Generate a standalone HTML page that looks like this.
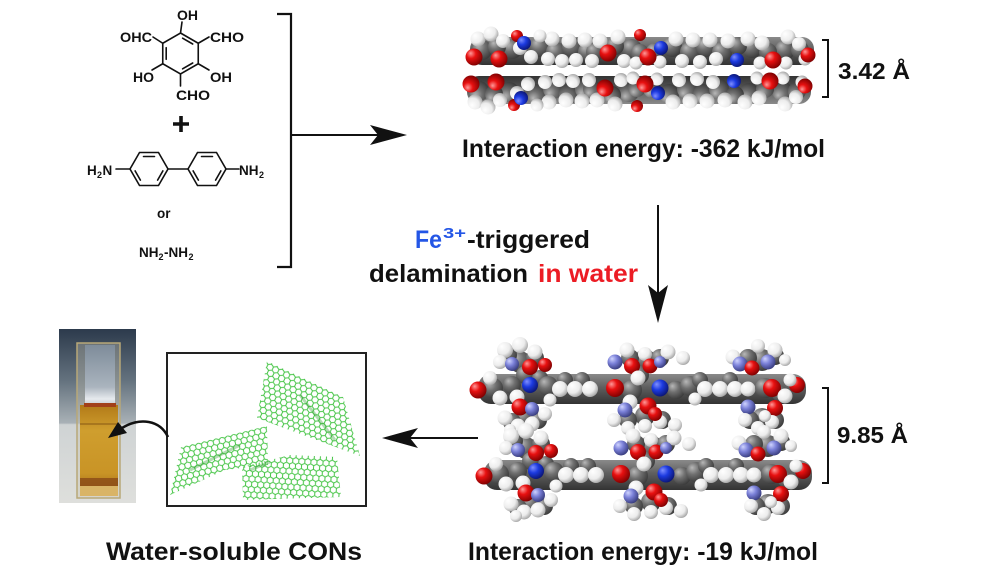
<!DOCTYPE html>
<html><head><meta charset="utf-8">
<style>
html,body{margin:0;padding:0;background:#fff;width:1000px;height:575px;overflow:hidden}
svg{display:block}
.c{fill:url(#gC)}.h{fill:url(#gH)}.o{fill:url(#gO)}.n{fill:url(#gN)}.l{fill:url(#gL)}
text{font-family:"Liberation Sans",Arial,sans-serif;font-weight:bold;fill:#111}
.b{stroke:#111;stroke-width:1.6;fill:none;stroke-linecap:round}
</style></head><body>
<svg width="1000" height="575" viewBox="0 0 1000 575" xmlns="http://www.w3.org/2000/svg">
<defs>
<radialGradient id="gC" cx="0.38" cy="0.35" r="0.7" fx="0.3" fy="0.28"><stop offset="0" stop-color="#b8b8b8"/><stop offset="0.45" stop-color="#707070"/><stop offset="1" stop-color="#383838"/></radialGradient>
<radialGradient id="gH" cx="0.38" cy="0.35" r="0.72" fx="0.3" fy="0.28"><stop offset="0" stop-color="#fff"/><stop offset="0.6" stop-color="#ececec"/><stop offset="1" stop-color="#9a9a9a"/></radialGradient>
<radialGradient id="gO" cx="0.38" cy="0.35" r="0.7" fx="0.3" fy="0.28"><stop offset="0" stop-color="#ff9a9a"/><stop offset="0.4" stop-color="#e81010"/><stop offset="1" stop-color="#780000"/></radialGradient>
<radialGradient id="gN" cx="0.38" cy="0.35" r="0.7" fx="0.3" fy="0.28"><stop offset="0" stop-color="#8090ff"/><stop offset="0.45" stop-color="#1c3ae0"/><stop offset="1" stop-color="#0a1470"/></radialGradient>
<radialGradient id="gL" cx="0.38" cy="0.35" r="0.7" fx="0.3" fy="0.28"><stop offset="0" stop-color="#d0d4ff"/><stop offset="0.45" stop-color="#7a80d8"/><stop offset="1" stop-color="#343878"/></radialGradient>
<linearGradient id="band" x1="0" y1="0" x2="0" y2="1"><stop offset="0" stop-color="#8a8a8a"/><stop offset="0.45" stop-color="#5e5e5e"/><stop offset="1" stop-color="#333"/></linearGradient>
<linearGradient id="bg" x1="0" y1="0" x2="0" y2="1">
<stop offset="0" stop-color="#2c3a4c"/><stop offset="0.3" stop-color="#65737f"/><stop offset="0.54" stop-color="#a9b1b6"/><stop offset="0.55" stop-color="#cfd3d4"/><stop offset="1" stop-color="#dedfdc"/></linearGradient>
<linearGradient id="liq" x1="0" y1="0" x2="0" y2="1">
<stop offset="0" stop-color="#b27a18"/><stop offset="0.3" stop-color="#cf9e2e"/><stop offset="0.8" stop-color="#c99426"/><stop offset="1" stop-color="#a8701a"/></linearGradient>
<linearGradient id="air" x1="0" y1="0" x2="0" y2="1">
<stop offset="0" stop-color="#7e8c9a"/><stop offset="0.7" stop-color="#aab4be"/><stop offset="0.9" stop-color="#e6eaee"/><stop offset="1" stop-color="#c8ccd0"/></linearGradient>
<pattern id="hexA" width="6.06" height="10.5" patternUnits="userSpaceOnUse" patternTransform="rotate(25)">
<path d="M3.03,0 L6.06,1.75 M3.03,0 L0,1.75 M0,1.75 V5.25 M6.06,1.75 V5.25 M0,5.25 L3.03,7 L6.06,5.25 M3.03,7 V10.5" stroke="#44c444" stroke-width="1" fill="none"/></pattern>
<pattern id="hexB" width="6.06" height="10.5" patternUnits="userSpaceOnUse" patternTransform="rotate(-14)">
<path d="M3.03,0 L6.06,1.75 M3.03,0 L0,1.75 M0,1.75 V5.25 M6.06,1.75 V5.25 M0,5.25 L3.03,7 L6.06,5.25 M3.03,7 V10.5" stroke="#44c444" stroke-width="1" fill="none"/></pattern>
<pattern id="hexC" width="6.06" height="10.5" patternUnits="userSpaceOnUse" patternTransform="rotate(4)">
<path d="M3.03,0 L6.06,1.75 M3.03,0 L0,1.75 M0,1.75 V5.25 M6.06,1.75 V5.25 M0,5.25 L3.03,7 L6.06,5.25 M3.03,7 V10.5" stroke="#44c444" stroke-width="1" fill="none"/></pattern>

<g id="tl">
<rect x="470" y="37" width="344" height="28" rx="12" fill="url(#band)"/>
<circle class="c" cx="482" cy="50" r="10"/><circle class="c" cx="512" cy="49" r="10"/><circle class="c" cx="540" cy="47" r="10"/>
<circle class="c" cx="556" cy="52" r="10"/><circle class="c" cx="572" cy="47" r="10"/><circle class="c" cx="588" cy="52" r="10"/>
<circle class="c" cx="632" cy="49" r="10"/><circle class="c" cx="672" cy="47" r="10"/><circle class="c" cx="690" cy="52" r="10"/>
<circle class="c" cx="706" cy="47" r="10"/><circle class="c" cx="722" cy="52" r="10"/><circle class="c" cx="752" cy="48" r="10"/>
<circle class="c" cx="785" cy="50" r="10"/><circle class="c" cx="640" cy="53" r="9"/><circle class="c" cx="595" cy="52" r="9"/>
<circle class="c" cx="615" cy="46" r="9"/><circle class="c" cx="655" cy="52" r="9"/><circle class="c" cx="738" cy="46" r="9"/><circle class="c" cx="768" cy="52" r="9"/><circle class="c" cx="800" cy="50" r="9"/><circle class="c" cx="497" cy="47" r="9"/>
<circle class="h" cx="478" cy="39" r="7.5"/><circle class="h" cx="491" cy="34" r="7.5"/><circle class="h" cx="503" cy="41" r="7"/>
<circle class="h" cx="520" cy="48" r="7"/><circle class="h" cx="531" cy="57" r="7"/><circle class="h" cx="552" cy="39" r="7.5"/>
<circle class="h" cx="569" cy="41" r="7.5"/><circle class="h" cx="585" cy="40" r="7.5"/><circle class="h" cx="548" cy="59" r="7"/>
<circle class="h" cx="562" cy="61" r="7"/><circle class="h" cx="576" cy="60" r="7"/><circle class="h" cx="592" cy="61" r="7"/>
<circle class="h" cx="600" cy="41" r="7.5"/><circle class="h" cx="618" cy="37" r="7.5"/><circle class="h" cx="624" cy="61" r="7"/>
<circle class="h" cx="636" cy="63" r="6.5"/><circle class="h" cx="676" cy="39" r="7.5"/><circle class="h" cx="693" cy="40" r="7.5"/>
<circle class="h" cx="710" cy="40" r="7.5"/><circle class="h" cx="728" cy="41" r="7.5"/><circle class="h" cx="682" cy="61" r="7"/>
<circle class="h" cx="700" cy="62" r="7"/><circle class="h" cx="716" cy="59" r="7"/><circle class="h" cx="748" cy="39" r="7.5"/>
<circle class="h" cx="762" cy="43" r="7.5"/><circle class="h" cx="788" cy="37" r="7.5"/><circle class="h" cx="799" cy="44" r="7"/>
<circle class="h" cx="805" cy="59" r="6.5"/><circle class="h" cx="786" cy="63" r="6.5"/><circle class="h" cx="760" cy="63" r="6.5"/>
<circle class="h" cx="540" cy="36" r="6.5"/><circle class="h" cx="660" cy="62" r="6.5"/>
<circle class="o" cx="517" cy="36" r="6"/><circle class="o" cx="640" cy="35" r="6"/>
<circle class="o" cx="474" cy="57" r="8.5"/><circle class="o" cx="499" cy="59" r="8.5"/><circle class="o" cx="608" cy="53" r="8.5"/>
<circle class="o" cx="648" cy="57" r="8.5"/><circle class="o" cx="773" cy="60" r="8.5"/><circle class="o" cx="808" cy="55" r="7.5"/>
<circle class="n" cx="524" cy="43" r="7"/><circle class="n" cx="661" cy="48" r="7"/><circle class="n" cx="737" cy="60" r="7"/>
</g>

<g id="bl">
<rect x="478" y="374" width="328" height="30" rx="13" fill="url(#band)"/>
<circle class="c" cx="520" cy="362" r="11"/><circle class="c" cx="645" cy="360" r="11"/><circle class="c" cx="762" cy="360" r="11"/>
<circle class="c" cx="525" cy="418" r="10"/><circle class="c" cx="645" cy="416" r="10"/><circle class="c" cx="762" cy="418" r="10"/>
<circle class="c" cx="508" cy="355" r="9"/><circle class="c" cx="535" cy="358" r="9"/><circle class="c" cx="630" cy="358" r="9"/>
<circle class="c" cx="660" cy="358" r="9"/><circle class="c" cx="748" cy="358" r="9"/><circle class="c" cx="775" cy="356" r="9"/>
<circle class="c" cx="512" cy="422" r="9"/><circle class="c" cx="538" cy="420" r="9"/><circle class="c" cx="628" cy="420" r="9"/>
<circle class="c" cx="662" cy="420" r="9"/><circle class="c" cx="750" cy="420" r="9"/><circle class="c" cx="775" cy="420" r="9"/>
<circle class="c" cx="525" cy="375" r="9"/><circle class="c" cx="540" cy="378" r="8"/><circle class="c" cx="640" cy="375" r="9"/>
<circle class="h" cx="505" cy="350" r="8"/><circle class="h" cx="520" cy="345" r="8"/><circle class="h" cx="535" cy="352" r="7.5"/>
<circle class="h" cx="500" cy="362" r="7"/><circle class="l" cx="512" cy="364" r="7"/><circle class="o" cx="530" cy="367" r="8"/>
<circle class="o" cx="545" cy="365" r="7"/>
<circle class="c" cx="493" cy="388" r="10"/><circle class="c" cx="512" cy="385" r="9"/>
<circle class="o" cx="478" cy="390" r="8.5"/><circle class="h" cx="500" cy="398" r="7.5"/><circle class="h" cx="490" cy="378" r="7"/>
<circle class="n" cx="530" cy="385" r="8"/><circle class="h" cx="517" cy="397" r="7.5"/><circle class="o" cx="520" cy="407" r="8.5"/>
<circle class="h" cx="505" cy="418" r="7.5"/><circle class="h" cx="518" cy="426" r="7.5"/><circle class="h" cx="532" cy="424" r="7.5"/>
<circle class="h" cx="545" cy="414" r="7"/><circle class="l" cx="532" cy="409" r="7"/><circle class="h" cx="510" cy="430" r="6"/>
<circle class="c" cx="548" cy="386" r="10"/><circle class="c" cx="565" cy="380" r="8"/><circle class="c" cx="582" cy="380" r="8"/>
<circle class="h" cx="560" cy="389" r="8"/><circle class="h" cx="575" cy="389" r="8"/><circle class="h" cx="590" cy="389" r="8"/>
<circle class="h" cx="550" cy="400" r="6.5"/>
<circle class="h" cx="627" cy="350" r="7.5"/><circle class="h" cx="645" cy="354" r="7"/><circle class="l" cx="615" cy="362" r="7.5"/>
<circle class="o" cx="632" cy="366" r="8"/><circle class="o" cx="650" cy="366" r="7.5"/><circle class="h" cx="668" cy="352" r="7.5"/>
<circle class="h" cx="683" cy="358" r="7"/><circle class="l" cx="660" cy="362" r="6"/>
<circle class="c" cx="632" cy="390" r="10"/><circle class="c" cx="676" cy="390" r="9"/>
<circle class="o" cx="615" cy="388" r="9"/><circle class="h" cx="638" cy="378" r="7.5"/><circle class="h" cx="630" cy="402" r="7.5"/>
<circle class="o" cx="648" cy="406" r="8.5"/><circle class="n" cx="660" cy="388" r="8.5"/>
<circle class="l" cx="625" cy="410" r="7.5"/><circle class="h" cx="614" cy="420" r="7"/><circle class="h" cx="628" cy="428" r="7"/>
<circle class="h" cx="645" cy="426" r="7"/><circle class="h" cx="660" cy="422" r="7"/><circle class="h" cx="675" cy="425" r="7"/>
<circle class="o" cx="655" cy="414" r="7"/>
<circle class="c" cx="690" cy="386" r="10"/><circle class="c" cx="700" cy="380" r="8"/><circle class="c" cx="730" cy="380" r="8"/>
<circle class="h" cx="705" cy="389" r="8"/><circle class="h" cx="720" cy="389" r="8"/><circle class="h" cx="735" cy="389" r="8"/>
<circle class="h" cx="748" cy="389" r="7.5"/><circle class="h" cx="695" cy="399" r="6.5"/>
<circle class="h" cx="733" cy="357" r="7.5"/><circle class="l" cx="740" cy="364" r="7.5"/><circle class="h" cx="758" cy="346" r="7"/>
<circle class="h" cx="775" cy="350" r="7.5"/><circle class="l" cx="768" cy="362" r="7.5"/><circle class="o" cx="752" cy="368" r="7.5"/>
<circle class="h" cx="785" cy="360" r="6"/>
<circle class="c" cx="765" cy="388" r="10"/><circle class="c" cx="780" cy="394" r="8"/>
<circle class="o" cx="772" cy="388" r="9"/><circle class="o" cx="797" cy="385" r="8"/><circle class="h" cx="785" cy="396" r="7.5"/>
<circle class="h" cx="790" cy="380" r="6.5"/>
<circle class="l" cx="748" cy="407" r="7.5"/><circle class="o" cx="775" cy="408" r="8"/><circle class="h" cx="745" cy="420" r="7"/>
<circle class="h" cx="758" cy="428" r="7"/><circle class="h" cx="772" cy="422" r="7"/><circle class="h" cx="765" cy="416" r="6"/>
</g>
</defs>

<!-- Chemistry: triformylphloroglucinol -->
<polygon class="b" points="180.5,33 198.25,43.25 198.25,63.75 180.5,74 162.75,63.75 162.75,43.25"/>
<path class="b" d="M182.6,38.2 L192.7,44 M192.7,63 L182.6,68.8 M166.2,59.3 L166.2,47.7"/>
<path class="b" d="M180.5,33 L182,22 M198.25,43.25 L209,37 M162.75,43.25 L153,37 M198.25,63.75 L209,70 M162.75,63.75 L152,70 M180.5,74 L180.5,86"/>
<text x="177" y="20" font-size="13.5" textLength="21" lengthAdjust="spacingAndGlyphs">OH</text>
<text x="120" y="42" font-size="13.5" textLength="32" lengthAdjust="spacingAndGlyphs">OHC</text>
<text x="210" y="42" font-size="13.5" textLength="34" lengthAdjust="spacingAndGlyphs">CHO</text>
<text x="133" y="82" font-size="13.5" textLength="21" lengthAdjust="spacingAndGlyphs">HO</text>
<text x="210" y="82" font-size="13.5" textLength="22" lengthAdjust="spacingAndGlyphs">OH</text>
<text x="176" y="100" font-size="13.5" textLength="34" lengthAdjust="spacingAndGlyphs">CHO</text>
<path d="M181,116 V132 M173,124 H189" stroke="#111" stroke-width="3.6"/>

<!-- benzidine -->
<polygon class="b" points="130,169 139.5,152.5 158.5,152.5 168,169 158.5,185.5 139.5,185.5"/>
<polygon class="b" points="188,169 197.5,152.5 216.5,152.5 226,169 216.5,185.5 197.5,185.5"/>
<path class="b" d="M143.5,156.5 H154.5 M162.9,170.9 L157.6,180.1 M140.4,180.1 L135.1,170.9 M201.5,156.5 H212.5 M220.9,170.9 L215.6,180.1 M198.4,180.1 L193.1,170.9"/>
<path class="b" d="M116,169 H130 M168,169 H188 M226,169 H239"/>
<text x="87" y="175" font-size="13.5">H</text><text x="97" y="178" font-size="9">2</text><text x="102.5" y="175" font-size="13.5">N</text>
<text x="239" y="175" font-size="13.5">NH</text><text x="259" y="178" font-size="9">2</text>
<text x="157" y="218" font-size="13.5">or</text>
<text x="139" y="257" font-size="13.5">NH</text><text x="158.5" y="260" font-size="9">2</text><text x="164" y="257" font-size="13.5">-NH</text><text x="188.5" y="260" font-size="9">2</text>

<!-- bracket + arrow -->
<path d="M277,14 H291 V267 H277" stroke="#111" stroke-width="2.2" fill="none"/>
<path d="M291,135 H382" stroke="#111" stroke-width="2"/>
<path d="M407,135 L370,125 L378,135 L370,145 Z" fill="#111"/>

<!-- top molecule -->
<use href="#tl"/>
<use href="#tl" transform="translate(-3,141) scale(1,-1)"/>
<path d="M822,40 H828 V97 H822" stroke="#111" stroke-width="2" fill="none"/>
<text x="838" y="79" font-size="23" textLength="72" lengthAdjust="spacingAndGlyphs">3.42 Å</text>
<text x="462" y="157" font-size="25" textLength="363" lengthAdjust="spacingAndGlyphs">Interaction energy: -362 kJ/mol</text>

<!-- middle -->
<text x="415" y="248" font-size="25" textLength="27" lengthAdjust="spacingAndGlyphs" style="fill:#2456e6">Fe</text>
<text x="443" y="238" font-size="15" textLength="23" lengthAdjust="spacingAndGlyphs" style="fill:#2456e6">3+</text>
<text x="467" y="248" font-size="25" textLength="123" lengthAdjust="spacingAndGlyphs">-triggered</text>
<text x="369" y="282" font-size="25" textLength="159" lengthAdjust="spacingAndGlyphs">delamination</text>
<text x="538" y="282" font-size="25" textLength="100" lengthAdjust="spacingAndGlyphs" style="fill:#ec1c24">in water</text>
<path d="M658,205 V298" stroke="#111" stroke-width="2"/>
<path d="M658,323 L648,285 L658,293 L668,285 Z" fill="#111"/>

<!-- bottom molecule -->
<use href="#bl"/>
<use href="#bl" transform="translate(6,86)"/>
<path d="M822,388 H828 V483 H822" stroke="#111" stroke-width="2" fill="none"/>
<text x="837" y="443" font-size="23" textLength="71" lengthAdjust="spacingAndGlyphs">9.85 Å</text>
<text x="468" y="560" font-size="25" textLength="350" lengthAdjust="spacingAndGlyphs">Interaction energy: -19 kJ/mol</text>

<!-- left arrow -->
<path d="M478,438 H405" stroke="#111" stroke-width="2"/>
<path d="M382,438 L418,428 L410,438 L418,448 Z" fill="#111"/>

<!-- box with sheets -->
<rect x="167" y="353" width="199" height="153" fill="#fff" stroke="#222" stroke-width="2"/>
<polygon points="267,361 343,397 360,456 257,418" fill="url(#hexA)"/>
<polygon points="170,495 181,447 267,426 268,465 225,470" fill="url(#hexB)"/>
<polygon points="242,467 290,455 337,457 341,497 243,500" fill="url(#hexC)"/>
<path d="M300,395 L335,440 M190,470 L240,445 M250,470 L270,462" stroke="#2a9a2a" stroke-width="3" opacity="0.35"/>

<!-- photo -->
<rect x="59" y="329" width="77" height="174" fill="url(#bg)"/>
<rect x="77" y="343" width="43" height="155" fill="#c8c4b0" opacity="0.35"/>
<rect x="85" y="345" width="30" height="60" fill="url(#air)"/>
<rect x="80" y="405" width="38" height="85" fill="url(#liq)"/>
<rect x="84" y="403" width="32" height="4" fill="#a2401a"/>
<rect x="80" y="423" width="38" height="2" fill="#9a6a1a" opacity="0.7"/>
<rect x="80" y="478" width="38" height="8" fill="#8a4a18" opacity="0.8"/>
<rect x="80" y="486" width="38" height="10" fill="#d9b466"/>
<rect x="77" y="343" width="43" height="155" fill="none" stroke="#b8a878" stroke-width="1.5"/>
<path d="M168,437 C160,420 140,417 122,428" stroke="#111" stroke-width="2.5" fill="none"/>
<path d="M108,438 L118,422 L127,433 Z" fill="#111"/>

<text x="106" y="560" font-size="25" textLength="256" lengthAdjust="spacingAndGlyphs">Water-soluble CONs</text>
</svg>
</body></html>
